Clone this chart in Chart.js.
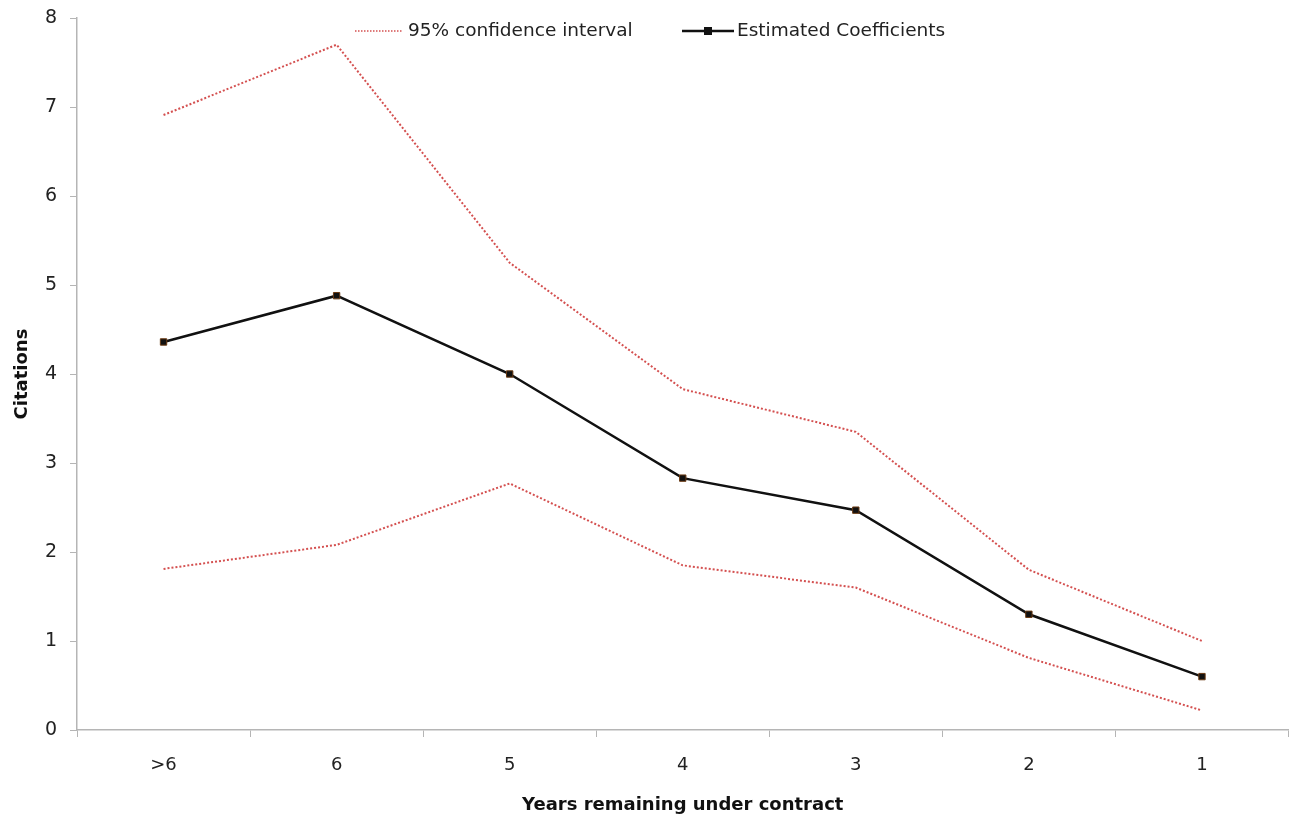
<!DOCTYPE html>
<html>
<head>
<meta charset="utf-8">
<script src="https://cdn.jsdelivr.net/npm/chart.js@4"></script>
<style>
  html, body { margin: 0; padding: 0; background: #fff; }
  #wrap { width: 1294px; height: 820px; }
</style>
</head>
<body>
<div id="wrap"><canvas id="graph1"></canvas></div>
<script>
// categories (years remaining)
const years = ['>6', '6', '5', '4', '3', '2', '1'];
// estimated coefficients
const estimated = [4.36, 4.88, 4.0, 2.83, 2.47, 1.30, 0.60];
// 95% confidence bounds
const upperCI = [6.91, 7.70, 5.25, 3.83, 3.35, 1.80, 1.00];
const lowerCI = [1.81, 2.08, 2.77, 1.85, 1.60, 0.81, 0.22];
const yTicks = [0, 1, 2, 3, 4, 5, 6, 7, 8];

const ciColor = 'rgb(212, 80, 80)';
const font = "'DejaVu Sans', sans-serif";

// legend drawn inside the plot, like the original
const legendPlugin = {
    id: 'insideLegend',
    afterDraw(chart) {
        const ctx = chart.ctx;
        ctx.save();
        const y = 31;
        ctx.font = '18.5px ' + font;
        ctx.textBaseline = 'middle';

        // dotted sample
        ctx.strokeStyle = ciColor;
        ctx.lineWidth = 1.5;
        ctx.setLineDash([1.5, 1.5]);
        ctx.beginPath();
        ctx.moveTo(355, y);
        ctx.lineTo(402, y);
        ctx.stroke();
        ctx.setLineDash([]);
        ctx.fillStyle = '#222';
        ctx.fillText('95% confidence interval', 408, y);

        // line + square sample
        ctx.strokeStyle = '#111';
        ctx.lineWidth = 2.5;
        ctx.beginPath();
        ctx.moveTo(682, y);
        ctx.lineTo(734, y);
        ctx.stroke();
        ctx.fillStyle = '#111';
        ctx.fillRect(708 - 4, y - 4, 8, 8);
        ctx.fillStyle = '#222';
        ctx.fillText('Estimated Coefficients', 737, y);
        ctx.restore();
    }
};

const config = {
    type: 'line',
    data: {
        labels: years,
        datasets: [
            {
                label: '95% confidence interval',
                data: upperCI,
                borderColor: ciColor,
                borderWidth: 2,
                borderDash: [2, 2],
                pointRadius: 0,
                tension: 0,
            },
            {
                label: 'lower',
                data: lowerCI,
                borderColor: ciColor,
                borderWidth: 2,
                borderDash: [2, 2],
                pointRadius: 0,
                tension: 0,
            },
            {
                label: 'Estimated Coefficients',
                data: estimated,
                borderColor: '#111',
                borderWidth: 2.5,
                pointStyle: 'rect',
                pointRadius: 4.5,
                pointBackgroundColor: '#111',
                pointBorderColor: '#6b3a12',
                pointBorderWidth: 1,
                tension: 0,
            }
        ]
    },
    options: {
        responsive: true,
        maintainAspectRatio: false,
        animation: false,
        layout: { padding: { top: 18, right: 4, left: 0, bottom: 0 } },
        scales: {
            y: {
                min: 0,
                max: 8,
                afterBuildTicks: (scale) => { scale.ticks = yTicks.map(v => ({ value: v })); },
                afterFit: (scale) => {
                    scale.width = 77;
                    scale.paddingTop = 0;
                    scale.paddingBottom = 0;
                },
                border: { color: '#b5b5b5', width: 1.5 },
                grid: { drawOnChartArea: false, tickLength: 7, color: '#b5b5b5' },
                title: {
                    display: true,
                    text: 'Citations',
                    color: '#111',
                    font: { family: font, size: 18, weight: 'bold' },
                    padding: { top: 12, bottom: 0 }
                },
                ticks: {
                    color: '#222',
                    padding: 13,
                    font: { family: font, size: 19 }
                }
            },
            x: {
                offset: true,
                afterFit: (scale) => { scale.height = 90; },
                border: { color: '#b5b5b5', width: 1.5 },
                grid: { drawOnChartArea: false, offset: true, tickLength: 7, color: '#b5b5b5' },
                title: {
                    display: true,
                    text: 'Years remaining under contract',
                    color: '#111',
                    font: { family: font, size: 18, weight: 'bold' },
                    padding: { top: 11 }
                },
                ticks: {
                    color: '#222',
                    padding: 18,
                    maxRotation: 0,
                    font: { family: font, size: 18 }
                }
            }
        },
        plugins: {
            legend: { display: false },
            tooltip: { enabled: false }
        }
    },
    plugins: [legendPlugin]
};

const myChart = new Chart(document.getElementById('graph1'), config);
</script>
</body>
</html>
